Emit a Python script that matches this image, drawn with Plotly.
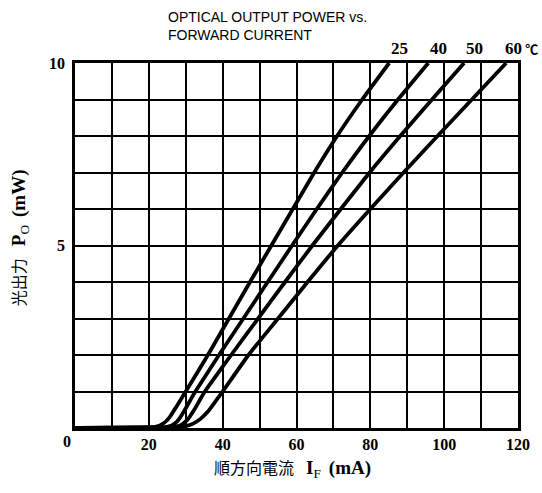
import plotly.graph_objects as go

# Forward current (mA) and optical output power (mW) for each case temperature
temps = ["25", "40", "50", "60"]
temp_unit = "℃"

i_25 = [0, 20, 22, 23, 24, 25, 26, 27, 28, 30.0, 36.0, 41.7, 47.4, 53.2, 59.0, 64.8, 71.0, 77.8, 85.1]
p_25 = [0, 0.02, 0.04, 0.07, 0.13, 0.22, 0.35, 0.51, 0.67, 1, 2, 3, 4, 5, 6, 7, 8, 9, 10]

i_40 = [0, 20, 24, 26, 27, 28, 29, 30, 31, 32.2, 33, 39.0, 45.6, 52.2, 58.8, 65.5, 72.4, 79.7, 87.5, 95.7]
p_40 = [0, 0.01, 0.02, 0.06, 0.12, 0.22, 0.37, 0.54, 0.72, 0.93, 1.06, 2, 3, 4, 5, 6, 7, 8, 9, 10]

i_50 = [0, 20, 26, 28, 29, 30, 31, 32, 33, 34, 35, 36, 42.3, 49.6, 56.9, 64.3, 72.0, 79.8, 88.1, 96.7, 105.4]
p_50 = [0, 0.01, 0.02, 0.05, 0.1, 0.18, 0.3, 0.45, 0.62, 0.8, 0.97, 1.12, 2, 3, 4, 5, 6, 7, 8, 9, 10]

i_60 = [0, 20, 28, 30, 32, 34, 36, 38, 40, 47.0, 55.0, 63.0, 71.2, 80.0, 89.0, 98.2, 107.5, 116.8]
p_60 = [0, 0.01, 0.02, 0.05, 0.12, 0.25, 0.45, 0.72, 1, 2, 3, 4, 5, 6, 7, 8, 9, 10]

x_ticks = list(range(0, 121, 10))
x_labels = ["", "", "20", "", "40", "", "60", "", "80", "", "100", "", "120"]
y_ticks = list(range(0, 11))
y_labels = ["", "", "", "", "", "5", "", "", "", "", "10"]

title_text = "OPTICAL OUTPUT POWER vs.<br>FORWARD CURRENT"
x_title = ("順方向電流 &nbsp;&nbsp;<span style='font-size:19px'><b>I</b><sub>F</sub></span>"
           " &nbsp;<span style='font-size:19px'><b>(mA)</b></span>")
y_title = ("光出力 &nbsp;&nbsp;<span style='font-size:19px'><b>P</b><sub>O</sub></span>"
           " &nbsp;<span style='font-size:19px'><b>(mW)</b></span>")

series = [(i_25, p_25), (i_40, p_40), (i_50, p_50), (i_60, p_60)]

serif = "Liberation Serif, Noto Sans CJK JP, serif"
sans = "Liberation Sans, Arial, sans-serif"

fig = go.Figure()
for (xs, ys), t in zip(series, temps):
    fig.add_trace(go.Scatter(x=xs, y=ys, mode="lines", name=t,
                             line=dict(color="black", width=3.8, shape="spline", smoothing=0.5),
                             showlegend=False, hoverinfo="skip"))

lab_font = dict(family=serif, size=16, color="black", weight="bold")
ann = []
for k, ((xs, ys), t) in enumerate(zip(series, temps)):
    last = k == len(temps) - 1
    txt = t + ("<span style='font-size:13px'> " + temp_unit + "</span>" if last else "")
    ann.append(dict(x=xs[-1] - (1.0 if last else 0), y=ys[-1], xref="x", yref="y", text=txt,
                    xanchor="left", yanchor="bottom", yshift=3, showarrow=False,
                    font=dict(family=serif, size=17, color="black", weight="bold")))

ann.append(dict(x=0, y=0, xref="x", yref="y", text="0", showarrow=False,
                xanchor="center", yanchor="middle", xshift=-8, yshift=-13,
                font=lab_font))
ann.append(dict(x=0.205, y=1, xref="paper", yref="paper", text=title_text,
                xanchor="left", yanchor="bottom", yshift=18, align="left",
                showarrow=False, font=dict(family=sans, size=14, color="black")))
ann.append(dict(x=0.49, y=0, xref="paper", yref="paper", text=x_title,
                xanchor="center", yanchor="top", yshift=-27, showarrow=False,
                font=dict(family=serif, size=16, color="black")))
ann.append(dict(x=0, y=0.52, xref="paper", yref="paper", text=y_title,
                textangle=-90, xanchor="center", yanchor="middle", xshift=-55,
                showarrow=False, font=dict(family=serif, size=16, color="black")))

fig.update_layout(
    width=542, height=493,
    margin=dict(l=75, r=14, t=63, b=65),
    paper_bgcolor="white", plot_bgcolor="white",
    annotations=ann,
    xaxis=dict(range=[0, 120], tickvals=x_ticks, ticktext=x_labels,
               showgrid=True, gridcolor="black", gridwidth=1.5,
               showline=True, linecolor="black", linewidth=2.5, mirror=True,
               ticks="", zeroline=False,
               tickfont=lab_font),
    yaxis=dict(range=[0, 10], tickvals=y_ticks, ticktext=y_labels,
               showgrid=True, gridcolor="black", gridwidth=1.5,
               showline=True, linecolor="black", linewidth=2.5, mirror=True,
               ticks="", zeroline=False, ticklabelstandoff=4,
               tickfont=lab_font),
)

fig.write_html("out.html", config={"displayModeBar": False},
               post_script="document.body.style.margin='0';")
